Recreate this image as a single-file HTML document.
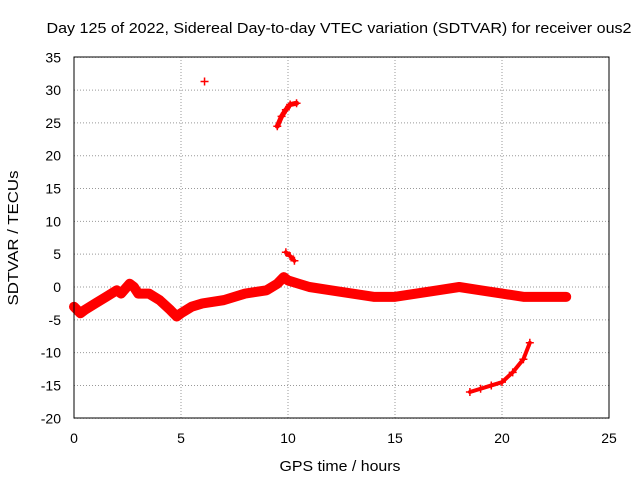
<!DOCTYPE html>
<html><head><meta charset="utf-8"><style>
body{margin:0;background:#fff}
text{font-family:"Liberation Sans",sans-serif;font-size:13px;fill:#000}
</style></head><body>
<svg id="c" width="640" height="480" xmlns="http://www.w3.org/2000/svg">
<rect width="640" height="480" fill="#fff"/>
<text x="339" y="33" text-anchor="middle" textLength="585" lengthAdjust="spacingAndGlyphs" style="font-size:15px">Day 125 of 2022, Sidereal Day-to-day VTEC variation (SDTVAR) for receiver ous2</text>
<text x="340" y="471" text-anchor="middle" textLength="121" lengthAdjust="spacingAndGlyphs" style="font-size:15px">GPS time / hours</text>
<text x="18" y="238" text-anchor="middle" textLength="135" lengthAdjust="spacingAndGlyphs" style="font-size:15px" transform="rotate(-90 18 238)">SDTVAR / TECUs</text>
<g id="grid"></g><g id="marks"></g>
<rect x="74" y="57" width="535" height="361" fill="none" stroke="#000"/>
</svg>
<script>
const xTicks=[0,5,10,15,20,25];
const yTicks=[35,30,25,20,15,10,5,0,-5,-10,-15,-20];
const mainHours=[0,0.3,0.5,1,1.5,2,2.2,2.6,2.8,3,3.5,4,4.5,4.8,5,5.5,6,7,8,9,9.5,9.8,10,10.5,11,12,13,14,15,16,17,18,19,20,21,22,23];
const mainVals=[-3,-4,-3.5,-2.5,-1.5,-0.5,-1,0.5,0,-1,-1,-2,-3.5,-4.5,-4,-3,-2.5,-2,-1,-0.5,0.5,1.5,1,0.5,0,-0.5,-1,-1.5,-1.5,-1,-0.5,0,-0.5,-1,-1.5,-1.5,-1.5];
const upperHours=[9.5,9.7,9.9,10.1,10.4];
const upperVals=[24.5,26,27,27.8,28];
const midHours=[9.9,10.1,10.3];
const midVals=[5.3,4.7,4];
const lowHours=[18.5,19,19.5,20,20.5,21,21.3];
const lowVals=[-16,-15.5,-15,-14.5,-13,-11,-8.5];
const dotHours=[6.1];
const dotVals=[31.3];
const X=h=>74+h*535/25, Y=v=>287-v*361/55;
const ns="http://www.w3.org/2000/svg";
const g=document.getElementById('grid'), m=document.getElementById('marks'), svg=document.getElementById('c');
xTicks.forEach(t=>{
 const l=document.createElementNS(ns,'line');
 
 
 l.setAttribute('x1',X(t));l.setAttribute('x2',X(t));l.setAttribute('y1',57);l.setAttribute('y2',418);
 l.setAttribute('stroke','#999');l.setAttribute('stroke-dasharray','1,2');g.appendChild(l);
 const tx=document.createElementNS(ns,'text');
 
 
 tx.setAttribute('x',X(t));tx.setAttribute('y',443);tx.setAttribute('text-anchor','middle');tx.setAttribute('style','font-size:14px');tx.textContent=t;svg.appendChild(tx);
});
yTicks.forEach(t=>{
 const l=document.createElementNS(ns,'line');
 
 
 l.setAttribute('x1',74);l.setAttribute('x2',609);l.setAttribute('y1',Y(t));l.setAttribute('y2',Y(t));
 l.setAttribute('stroke','#999');l.setAttribute('stroke-dasharray','1,2');g.appendChild(l);
 const tx=document.createElementNS(ns,'text');
 
 
 tx.setAttribute('x',61);tx.setAttribute('y',Y(t)+5);tx.setAttribute('text-anchor','end');tx.setAttribute('style','font-size:14px');tx.textContent=t;svg.appendChild(tx);
});
function series(hs,vs,w,name){
 const p=document.createElementNS(ns,'polyline');
 
 
 p.setAttribute('points',hs.map((h,i)=>X(h)+','+Y(vs[i])).join(' '));
 p.setAttribute('fill','none');p.setAttribute('stroke','#f00');p.setAttribute('stroke-width',w);p.setAttribute('stroke-linejoin','round');p.setAttribute('stroke-linecap','round');
 m.appendChild(p);
 hs.forEach((h,i)=>{
  const c=document.createElementNS(ns,'path');
  
  
  const x=X(h),y=Y(vs[i]);
  c.setAttribute('d',`M${x-4},${y}H${x+4}M${x},${y-4}V${y+4}`);
  c.setAttribute('stroke','#f00');c.setAttribute('stroke-width',1.5);m.appendChild(c);
 });
}
series(mainHours,mainVals,10,'main-trace');
series(upperHours,upperVals,5,'upper-trace');
series(midHours,midVals,4,'mid-trace');
series(lowHours,lowVals,4,'low-trace');
series(dotHours,dotVals,3,'outlier-point');
</script>
</body></html>
